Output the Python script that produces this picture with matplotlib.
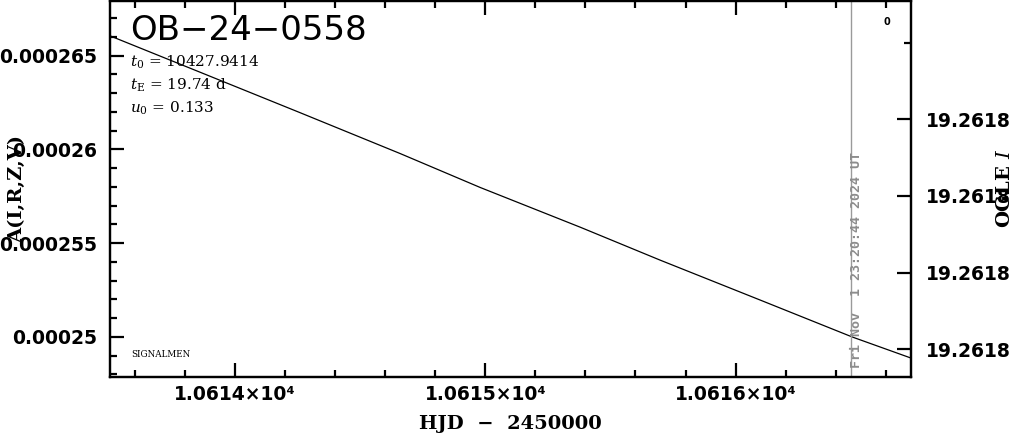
import matplotlib
matplotlib.use("Agg")
import matplotlib.pyplot as plt
from matplotlib.ticker import MultipleLocator, FixedLocator

# ---- data ----
hjd = [10613.50, 10613.86, 10614.26, 10614.66, 10614.98, 10615.38,
       10615.70, 10616.10, 10616.468, 10616.70]
flux = [0.00026605, 0.00026411, 0.00026195, 0.00025977, 0.00025796,
        0.00025584, 0.00025408, 0.00025195, 0.00024998, 0.00024887]

x_ticks = [10614, 10615, 10616]
x_tick_labels = ["1.0614×10⁴", "1.0615×10⁴", "1.0616×10⁴"]
y_ticks = [0.00025, 0.000255, 0.00026, 0.000265]
y_tick_labels = ["0.00025", "0.000255", "0.00026", "0.000265"]
mag_ticks = [19.26177, 19.26178, 19.26179, 19.26180]
mag_minor = [19.26176]
mag_tick_labels = ["19.2618", "19.2618", "19.2618", "19.2618"]

event = "OB\u221224\u22120558"
params = [r"$t_0$ = 10427.9414", r"$t_{\rm E}$ = 19.74 d", r"$u_0$ = 0.133"]
now_hjd = 10616.46
now_label = "Fri Nov  1 23:20:44 2024 UT"

xlim = (10613.5, 10616.7)
ylim = (0.00024787, 0.00026793)
mag_lim = (19.2618036, 19.2617545)

plt.rcParams["mathtext.fontset"] = "dejavuserif"

W, H = 1014, 434
fig = plt.figure(figsize=(W / 100, H / 100), dpi=100)
L, R, B, T = 110, 910.7, 376.7, 0.6
ax = fig.add_axes([L / W, 1 - B / H, (R - L) / W, (B - T) / H])

ax.plot(hjd, flux, color="black", lw=0.9)
ax.axvline(now_hjd, color="#9a9a9a", lw=1.0)

ax.set_xlim(*xlim)
ax.set_ylim(*ylim)

for sp in ax.spines.values():
    sp.set_linewidth(1.6)

ax.set_xticks(x_ticks)
ax.set_xticklabels(x_tick_labels)
ax.xaxis.set_minor_locator(MultipleLocator(0.2))
ax.set_yticks(y_ticks)
ax.set_yticklabels(y_tick_labels)
ax.yaxis.set_minor_locator(MultipleLocator(0.000001))

ax.tick_params(which="both", direction="in", top=True, right=False,
               width=1.6)
ax.tick_params(which="major", length=10)
ax.tick_params(which="minor", length=5)
ax.tick_params(axis="x", which="major", pad=6)
ax.tick_params(axis="y", which="major", pad=9)
for lab in ax.get_xticklabels() + ax.get_yticklabels():
    lab.set_fontsize(13.5)
    lab.set_fontweight("bold")

ax.set_xlabel("HJD  \u2212  2450000", fontsize=14, fontweight="bold",
              family="DejaVu Serif")
ax.xaxis.set_label_coords(0.5, -0.1017)
ax.xaxis.label.set_va("top")
ax.set_ylabel("A(I,R,Z,V)", fontsize=14, fontweight="bold",
              family="DejaVu Serif", va="center")
ax.yaxis.set_label_coords(-0.1156, 0.5)

ax2 = ax.twinx()
ax2.set_ylim(*mag_lim)
ax2.set_yticks(mag_ticks)
ax2.set_yticklabels(mag_tick_labels)
ax2.yaxis.set_minor_locator(FixedLocator(mag_minor))
ax2.tick_params(which="both", direction="in", width=1.6, pad=11)
ax2.tick_params(which="major", length=10)
ax2.tick_params(which="minor", length=5)
for lab in ax2.get_yticklabels():
    lab.set_fontsize(13.5)
    lab.set_fontweight("bold")
for sp in ax2.spines.values():
    sp.set_linewidth(1.6)
ax2.set_ylabel("OGLE $I$", fontsize=14, fontweight="bold",
               family="DejaVu Serif", rotation=90, va="center")
ax2.yaxis.set_label_coords(1.1178, 0.5)

ax.text(0.025, 0.920, event, transform=ax.transAxes, fontsize=24.5,
        fontweight="medium", ha="left", va="center")
for i, p in enumerate(params):
    ax.text(0.025, 0.835 - i * 0.061, p, transform=ax.transAxes,
            fontsize=11, family="DejaVu Serif", ha="left", va="center")
ax.text(0.027, 0.058, "SIGNALMEN", transform=ax.transAxes, fontsize=6.3,
        family="DejaVu Serif", ha="left", va="center")
ax.text(0.970, 0.942, "0", transform=ax.transAxes, fontsize=7,
        fontweight="bold", ha="center", va="center")
ax.text((857 - L) / (R - L), 0.023, now_label, transform=ax.transAxes,
        rotation=90, ha="center", va="bottom", fontsize=9.6,
        family="DejaVu Sans Mono", fontweight="bold", color="#8c8c8c")

fig.savefig("out.png", dpi=100)
